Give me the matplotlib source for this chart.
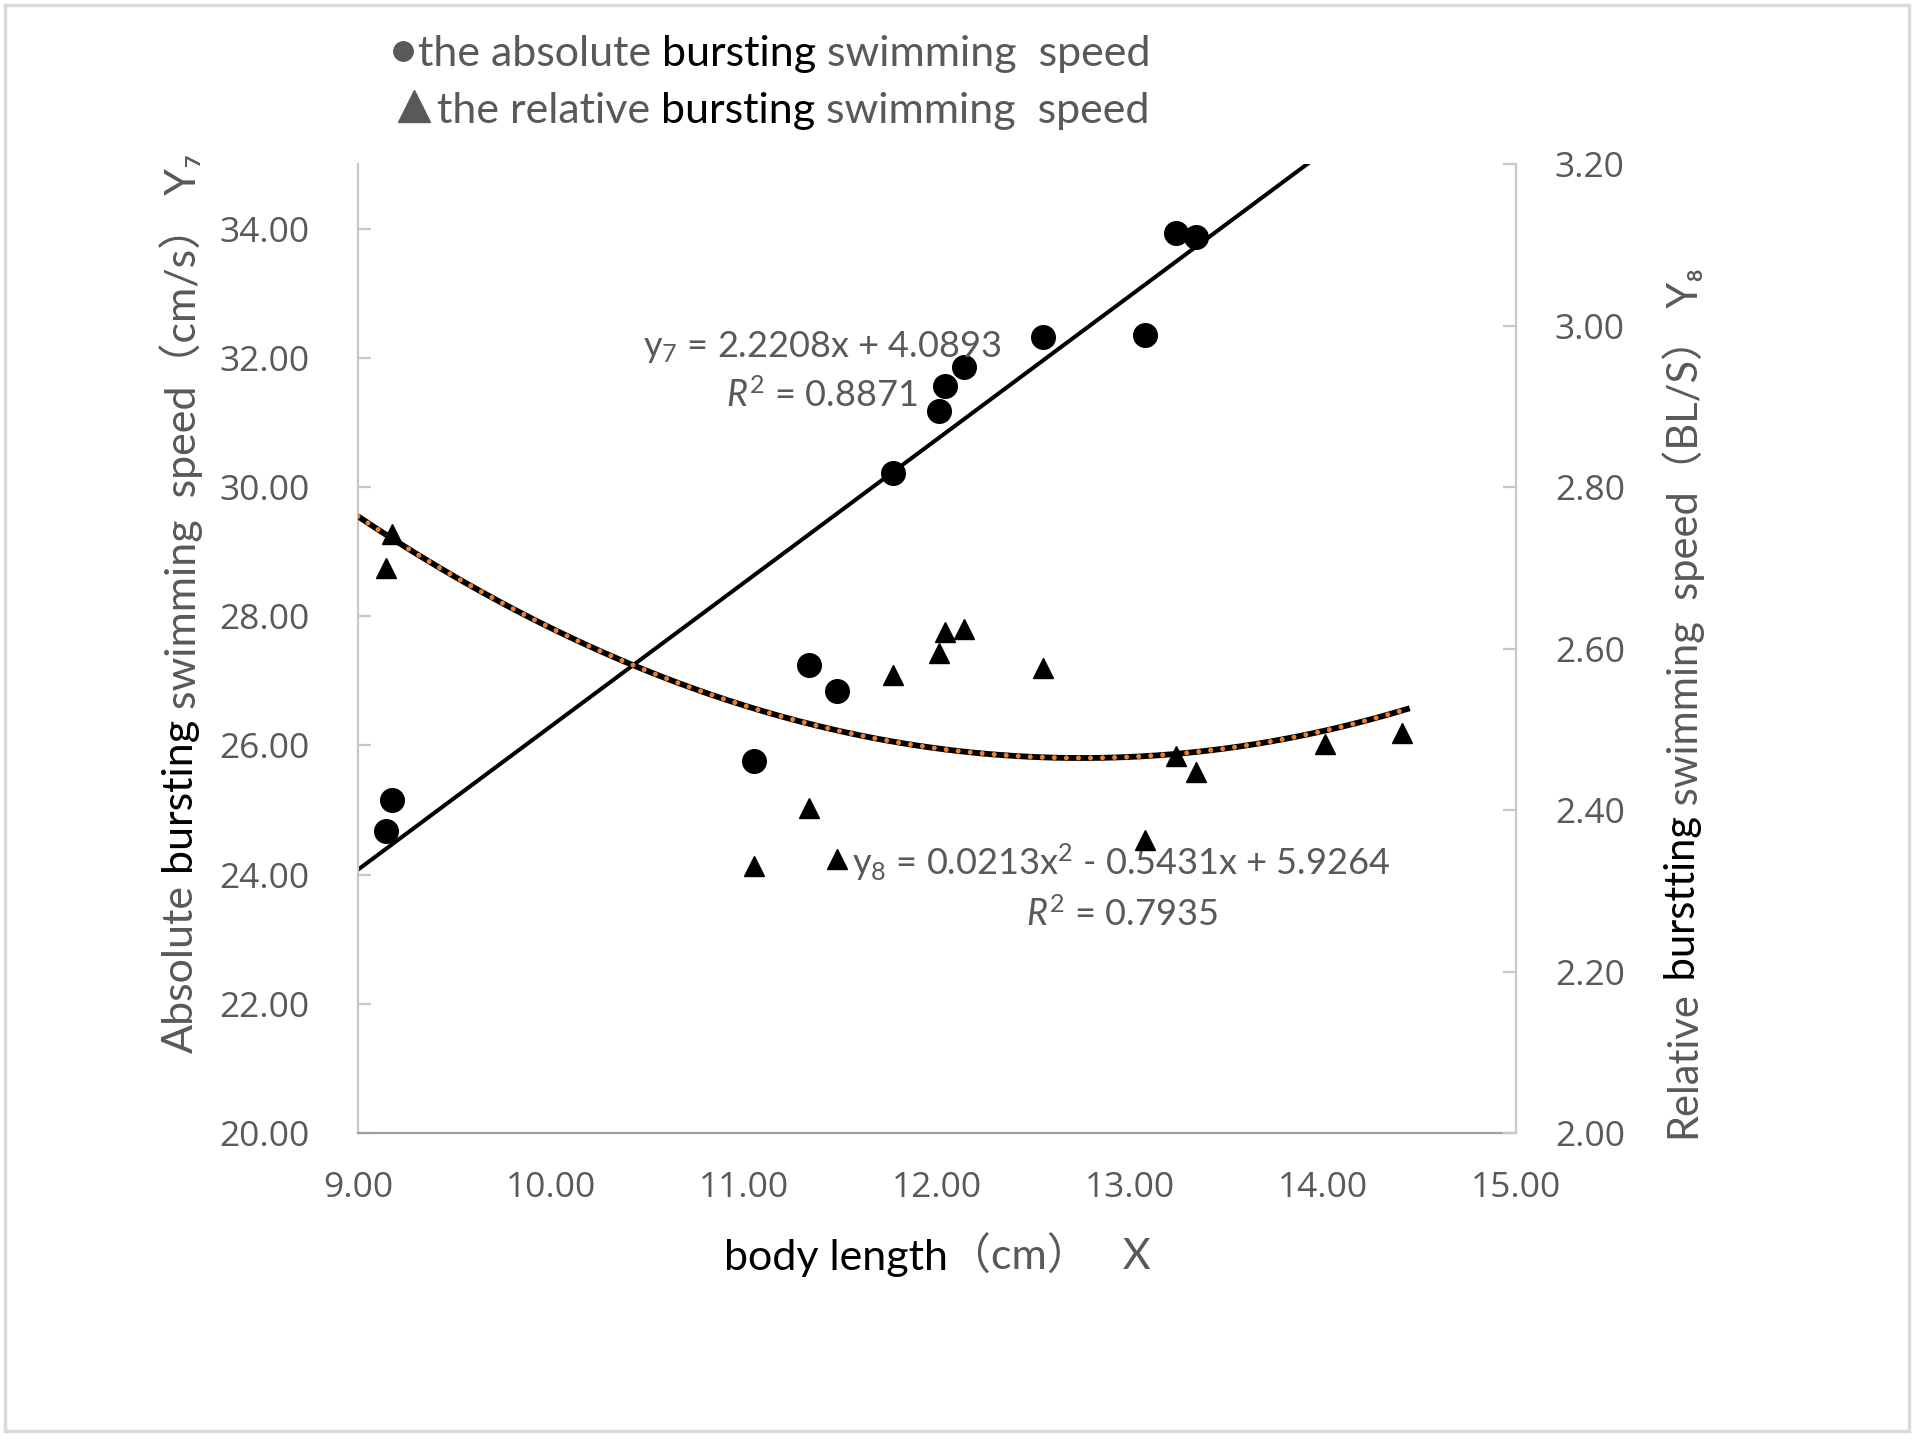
import numpy as np
import matplotlib
matplotlib.use('Agg')
import matplotlib.pyplot as plt
from matplotlib.lines import Line2D
from matplotlib.patches import Rectangle

FAM = ['Lato', 'Noto Sans CJK SC', 'DejaVu Sans']
plt.rcParams['font.family'] = FAM
plt.rcParams['mathtext.fontset'] = 'custom'
plt.rcParams['mathtext.rm'] = 'Lato'
plt.rcParams['mathtext.it'] = 'Lato:italic'

GRAY = '#595959'

# body length (cm) of each fish
body_len = [9.146, 9.177, 11.05, 11.335, 11.48, 11.77, 12.01, 12.04, 12.14,
            12.55, 13.08, 13.24, 13.34, 14.01, 14.41]
# absolute bursting swimming speed (cm/s), visible points
abs_speed = [24.67, 25.16, 25.76, 27.25, 26.84, 30.22, 31.18, 31.56, 31.86,
             32.32, 32.36, 33.94, 33.87]
# relative bursting swimming speed (BL/s)
rel_speed = [2.700, 2.742, 2.331, 2.403, 2.339, 2.567, 2.595, 2.621, 2.624,
             2.576, 2.363, 2.467, 2.447, 2.482, 2.496]

# trend line coefficients as printed on the chart
lin_coef = [2.2208, 4.0893]
quad_coef = [0.0213, -0.5431, 5.9264]

x_ticks = [9, 10, 11, 12, 13, 14, 15]
y_ticks = [20, 22, 24, 26, 28, 30, 32, 34]
y2_ticks = [2.0, 2.2, 2.4, 2.6, 2.8, 3.0, 3.2]

fig = plt.figure(figsize=(19.15, 14.39), dpi=100)
ax = fig.add_axes([0.1869, 0.2126, 0.6047, 0.6734])
ax2 = ax.twinx()

ax.set_xlim(9, 15)
ax.set_ylim(20, 35)
ax2.set_ylim(2.0, 3.2)

# trend lines
xt = np.linspace(9, 14.45, 300)
ax.plot(xt, np.polyval(lin_coef, xt), color='black', lw=2.9, zorder=2)
ax2.plot(xt, np.polyval(quad_coef, xt), color='black', lw=4.2, zorder=2,
         solid_capstyle='butt')
ax2.plot(xt, np.polyval(quad_coef, xt), color='#ED7D31', lw=3.6, zorder=3,
         linestyle=(0, (0.01, 2.4)), dash_capstyle='round')

# data points
ax.plot(body_len[:len(abs_speed)], abs_speed, 'o', color='black', ms=17,
        zorder=3)
ax2.plot(body_len, rel_speed, '^', color='black', ms=15, zorder=4)

# axes styling
for a in (ax, ax2):
    a.spines['top'].set_visible(False)
ax.spines['right'].set_visible(False)
ax2.spines['left'].set_visible(False)
ax2.spines['bottom'].set_visible(False)
ax.spines['left'].set_color('#C8C8C8')
ax2.spines['right'].set_color('#C8C8C8')
ax.spines['bottom'].set_color('#A0A0A0')
for sp in ('left', 'bottom'):
    ax.spines[sp].set_linewidth(1.6)
ax2.spines['right'].set_linewidth(1.6)

ax.set_xticks(x_ticks)
ax.set_xticklabels([f'{v:.2f}' for v in x_ticks])
ax.set_yticks(y_ticks)
ax.set_yticklabels([f'{v:.2f}' for v in y_ticks])
ax2.set_yticks(y2_ticks)
ax2.set_yticklabels([f'{v:.2f}' for v in y2_ticks])

ax.tick_params(axis='y', direction='in', length=9.5, width=1.6,
               color='#C8C8C8', pad=35, labelcolor=GRAY, labelsize=25.5)
ax.tick_params(axis='x', length=0, pad=27, labelcolor=GRAY, labelsize=25.5)
ax2.tick_params(axis='y', direction='in', length=9.5, width=1.6,
                color='#C8C8C8', pad=28, labelcolor=GRAY, labelsize=25.5)
for lab in ax.get_xticklabels() + ax.get_yticklabels() + ax2.get_yticklabels():
    lab.set_fontfamily(['Open Sans', 'DejaVu Sans'])


def chain(x, y, pieces, size, rotation=0):
    prev = fig.text(x, y, pieces[0][0], color=pieces[0][1], fontsize=size,
                    rotation=rotation, ha='center' if rotation else 'left',
                    va='bottom', family=FAM)
    for s, c in pieces[1:]:
        if rotation:
            prev = ax.annotate(s, xy=(0.5, 1), xycoords=prev, color=c,
                               fontsize=size, rotation=rotation, ha='center',
                               va='bottom', annotation_clip=False, family=FAM)
        else:
            prev = ax.annotate(s, xy=(1, 0), xycoords=prev, color=c,
                               fontsize=size, ha='left', va='bottom',
                               annotation_clip=False, family=FAM)
    return prev


# axis titles
chain(0.0945, 0.268, [('Absolute', GRAY), (' bursting', 'black'),
                      (' swimming  speed（cm/s） Y₇', GRAY)], 31, rotation=90)
chain(0.879, 0.209, [('Relative', GRAY), (' burstting', 'black'),
                     (' swimming  speed（BL/S） Y₈', GRAY)], 30, rotation=90)
chain(0.378, 0.1125, [('body length', 'black'), ('（cm）   X', GRAY)], 31)

# legend
fig.add_artist(Line2D([403 / 1915], [1 - 51 / 1439], marker='o', ms=14,
                      color=GRAY, transform=fig.transFigure))
fig.add_artist(Line2D([414 / 1915], [1 - 106 / 1439], marker='^', ms=23,
                      color=GRAY, transform=fig.transFigure))
chain(418 / 1915, 0.949, [('the absolute', GRAY), (' bursting', 'black'),
                          (' swimming  speed', GRAY)], 31)
chain(437 / 1915, 0.910, [('the relative', GRAY), (' bursting', 'black'),
                          (' swimming  speed', GRAY)], 31)

# regression equations
ax.text(11.405, 32.02, 'y$_7$ = 2.2208x + 4.0893', color=GRAY, fontsize=26,
        ha='center', va='baseline')
ax.text(11.405, 31.24, '$\\mathit{R}^2$ = 0.8871', color=GRAY, fontsize=26,
        ha='center', va='baseline')
ax.text(12.956, 23.99, 'y$_8$ = 0.0213x$^2$ - 0.5431x + 5.9264', color=GRAY,
        fontsize=26, ha='center', va='baseline', zorder=5)
ax.text(12.956, 23.21, '$\\mathit{R}^2$ = 0.7935', color=GRAY, fontsize=26,
        ha='center', va='baseline')

# outer frame
fig.patches.append(Rectangle((5 / 1915, 8 / 1439), 1904 / 1915, 1426 / 1439,
                             transform=fig.transFigure, fill=False,
                             ec='#D9D9D9', lw=2.5))

fig.savefig('out.png', dpi=100)
